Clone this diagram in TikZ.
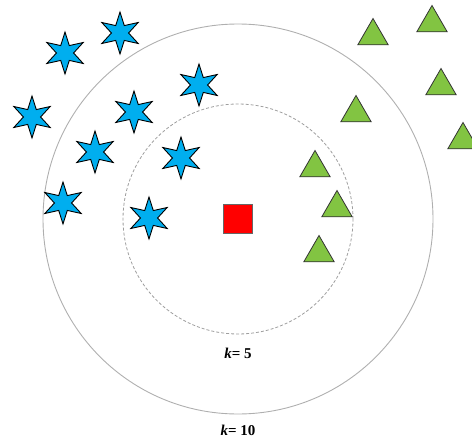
\documentclass[tikz,border=0pt]{standalone}
\usepackage{fontspec}
\setmainfont{Liberation Serif}
\usepackage{tikz}
\usetikzlibrary{shapes.geometric,positioning}

\definecolor{starblue}{RGB}{0,174,239}
\definecolor{trigreen}{RGB}{130,196,66}
\definecolor{ringgray}{RGB}{175,175,175}

\tikzset{
  bluestar/.style={star, star points=6, star point ratio=2.45, minimum size=42pt,
    inner sep=0pt, fill=starblue, draw=black, line width=0.9pt},
  greentri/.style={regular polygon, regular polygon sides=3, minimum size=35pt,
    inner sep=0pt, fill=trigreen, draw=black!80, line width=0.8pt},
  querybox/.style={rectangle, minimum size=29pt, inner sep=0pt, fill=red, draw=black!60, line width=0.8pt},
  klabel/.style={font=\bfseries\fontsize{15}{17}\selectfont}
}

\begin{document}
\begin{tikzpicture}[x=1pt, y=1pt]
\useasboundingbox (0,0) rectangle (472,-439);
\clip (0,0) rectangle (472,-439);

% Query point
\node[querybox] (query) at (238,-219) {};

% Neighbourhoods
\draw[ringgray, line width=0.9pt] (query.center) circle (195);
\draw[ringgray!90!black, line width=0.8pt, dash pattern=on 3pt off 2pt] (query.center) circle (115);

% Labels
\node[klabel] (k5) at (238,-353) {\textit{k}= 5};
\node[klabel] (k10) at (238,-430) {\textit{k}= 10};

% Class A (blue stars)
\node[bluestar] (s1) at (65,-53) {};
\node[bluestar] (s2) at (120,-33) {};
\node[bluestar] (s3) at (199,-85) {};
\node[bluestar] (s4) at (32,-117) {};
\node[bluestar] (s5) at (134,-112) {};
\node[bluestar] (s6) at (95,-152) {};
\node[bluestar] (s7) at (181,-158) {};
\node[bluestar] (s8) at (63,-203) {};
\node[bluestar] (s9) at (149,-218) {};

% Class B (green triangles)
\node[greentri] (t1) at (373,-36) {};
\node[greentri] (t2) at (432,-23) {};
\node[greentri] (t3) at (441,-86) {};
\node[greentri] (t4) at (356,-113) {};
\node[greentri] (t5) at (463,-140) {};
\node[greentri] (t6) at (315,-168) {};
\node[greentri] (t7) at (337,-208) {};
\node[greentri] (t8) at (319,-253) {};

\end{tikzpicture}
\end{document}
